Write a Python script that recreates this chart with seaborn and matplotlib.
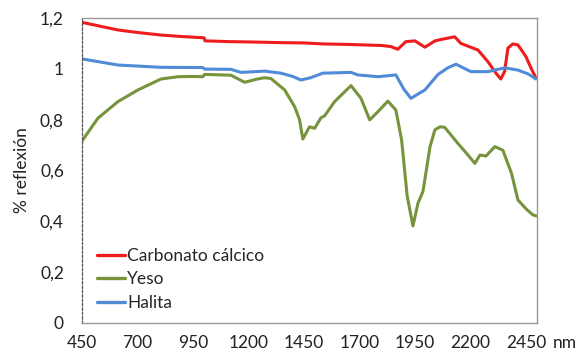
import matplotlib
matplotlib.use("Agg")
import matplotlib.pyplot as plt
import matplotlib.transforms as mtransforms
import seaborn as sns
import pandas as pd
from matplotlib.ticker import FuncFormatter

# ---- data ----
carb_nm = [450, 530, 612, 700, 806, 900, 1000, 1004, 1121, 1250, 1346, 1450, 1535, 1650,
           1797, 1840, 1873, 1909, 1950, 1995, 2040, 2076, 2129, 2157, 2234, 2279, 2315,
           2337, 2354, 2369, 2391, 2414, 2450, 2473, 2495]
carb_val = [1.183, 1.168, 1.153, 1.143, 1.133, 1.127, 1.122, 1.110, 1.107, 1.105, 1.103,
            1.102, 1.098, 1.096, 1.092, 1.088, 1.077, 1.107, 1.110, 1.085, 1.110, 1.117,
            1.126, 1.100, 1.074, 1.028, 0.983, 0.960, 0.990, 1.082, 1.098, 1.094, 1.048,
            1.003, 0.964]

yeso_nm = [450, 522, 612, 702, 806, 882, 950, 995, 1002, 1121, 1183, 1240, 1273, 1301,
           1363, 1408, 1430, 1445, 1475, 1498, 1527, 1543, 1588, 1662, 1707, 1746, 1783,
           1828, 1864, 1890, 1915, 1941, 1964, 1986, 2018, 2040, 2063, 2084, 2143, 2180,
           2220, 2243, 2270, 2310, 2346, 2385, 2414, 2453, 2482, 2498]
yeso_val = [0.716, 0.806, 0.871, 0.917, 0.960, 0.969, 0.970, 0.969, 0.978, 0.975, 0.947,
            0.960, 0.965, 0.962, 0.917, 0.851, 0.800, 0.724, 0.772, 0.766, 0.808, 0.815,
            0.871, 0.934, 0.884, 0.799, 0.831, 0.873, 0.838, 0.720, 0.500, 0.382, 0.472,
            0.517, 0.694, 0.760, 0.772, 0.770, 0.707, 0.670, 0.628, 0.661, 0.657, 0.694,
            0.680, 0.589, 0.484, 0.447, 0.425, 0.421]

hal_nm = [450, 612, 806, 995, 1002, 1121, 1166, 1273, 1346, 1400, 1436, 1480, 1535, 1662,
          1693, 1783, 1864, 1900, 1932, 1995, 2054, 2100, 2135, 2202, 2279, 2355, 2414,
          2460, 2495]
hal_val = [1.039, 1.015, 1.006, 1.005, 0.999, 0.998, 0.986, 0.991, 0.983, 0.970, 0.956,
           0.965, 0.983, 0.986, 0.976, 0.969, 0.976, 0.920, 0.884, 0.917, 0.978, 1.005,
           1.018, 0.989, 0.989, 1.004, 0.995, 0.980, 0.960]

series_names = ["Carbonato cálcico", "Yeso", "Halita"]
x_ticks = [450, 700, 950, 1200, 1450, 1700, 1950, 2200, 2450]
y_ticks = [0, 0.2, 0.4, 0.6, 0.8, 1.0, 1.2]

df = pd.concat([
    pd.DataFrame({"nm": carb_nm, "val": carb_val, "serie": series_names[0]}),
    pd.DataFrame({"nm": yeso_nm, "val": yeso_val, "serie": series_names[1]}),
    pd.DataFrame({"nm": hal_nm, "val": hal_val, "serie": series_names[2]}),
], ignore_index=True)

sns.set_style("white")
plt.rcParams["font.family"] = ["Lato", "DejaVu Sans"]

FS = 12.5
fig = plt.figure(figsize=(5.79, 3.53), dpi=100)
ax = fig.add_axes([0.1416, 0.085, 0.7859, 0.864])

palette = {series_names[0]: "#EE1C1C", series_names[1]: "#77933C", series_names[2]: "#4F8BD6"}
sns.lineplot(data=df, x="nm", y="val", hue="serie", hue_order=series_names,
             palette=palette, linewidth=2.2, sort=False, estimator=None, ax=ax)

ax.set_xlim(450, 2500)
ax.set_ylim(0, 1.2)
ax.set_xticks(x_ticks)
ax.set_yticks(y_ticks)

def yfmt(v, pos):
    s = f"{v:.1f}".rstrip("0").rstrip(".")
    return s.replace(".", ",")
ax.yaxis.set_major_formatter(FuncFormatter(yfmt))

ax.tick_params(axis="both", labelsize=FS, length=4, width=0.8, direction="out",
               colors="#999999", labelcolor="#222222")
ax.tick_params(axis="x", pad=5)
ax.tick_params(axis="y", pad=9)

for side in ["top", "right", "bottom"]:
    ax.spines[side].set_color("#999999")
    ax.spines[side].set_linewidth(1.0)
ax.spines["left"].set_color("#555555")
ax.spines["left"].set_linewidth(0.9)
ax.spines["left"].set_linestyle((0, (2, 1.5)))

ax.set_xlabel("")
ax.set_ylabel("% reflexión", fontsize=FS, color="#222222", labelpad=7)

nm_tr = mtransforms.offset_copy(ax.transAxes, fig=fig, x=11, y=-9, units="points")
ax.text(1.0, 0.0, "nm", transform=nm_tr, fontsize=FS, color="#222222",
        ha="left", va="top")

leg = ax.legend(loc="lower left", bbox_to_anchor=(0.01, 0.006), frameon=False,
                fontsize=FS, handlelength=1.6, handletextpad=0.15, labelspacing=0.42,
                borderaxespad=0.2)
for line in leg.get_lines():
    line.set_linewidth(2.4)

fig.savefig("out.png", dpi=100)
